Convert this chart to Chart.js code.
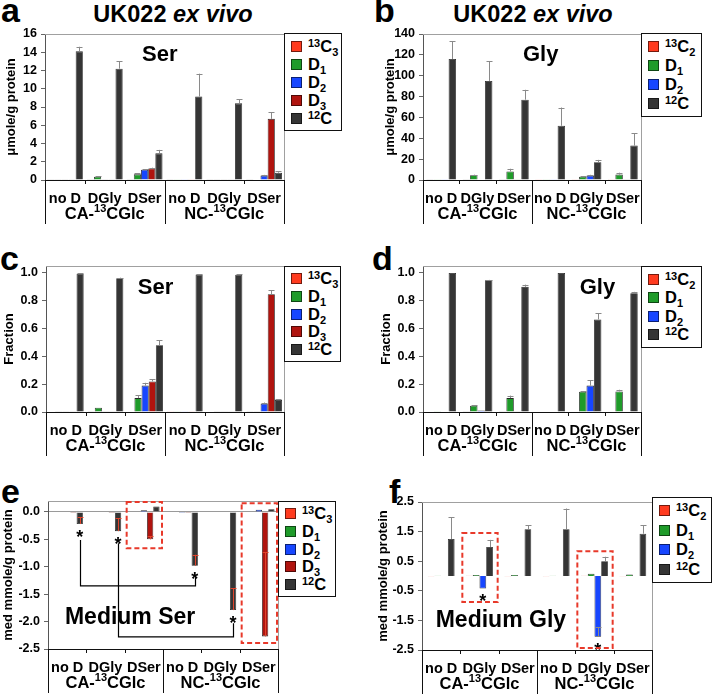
<!DOCTYPE html>
<html>
<head>
<meta charset="utf-8">
<title>UK022 ex vivo</title>
<script src="https://cdn.jsdelivr.net/npm/chart.js@4.4.1/dist/chart.umd.min.js"></script>
<style>
  body { margin: 0; background: #fff; }
  #fig { position: relative; width: 713px; height: 695px; overflow: hidden; font-family: 'Liberation Sans', Arial, sans-serif; color: #000; }
  #fig canvas { position: absolute; }
  .letter { position: absolute; font-weight: bold; font-size: 34px; line-height: 34px; }
  .title { position: absolute; width: 220px; text-align: center; font-weight: bold; font-size: 23.5px; line-height: 23.5px; white-space: nowrap; }
  .legend { position: absolute; box-sizing: border-box; border: 1.5px solid #111; background: #fff; display: flex; flex-direction: column; justify-content: center; padding-left: 6px; }
  .legend .item { display: flex; align-items: center; font-weight: bold; font-size: 16.5px; white-space: nowrap; }
  .legend .swatch { width: 11px; height: 11px; box-sizing: border-box; border: 1px solid rgba(0,0,0,0.55); margin-right: 6px; flex: none; }
  .legend sup, .legend sub { font-size: 11px; line-height: 0; }
  .legend sup { vertical-align: 5px; }
  .legend sub { vertical-align: -4px; }
</style>
</head>
<body>
<div id="fig">
  <div class="letter" style="left:1px;top:-7px">a</div>
  <div class="title" style="left:63px;top:3px">UK022 <i>ex vivo</i></div>
  <div class="letter" style="left:374px;top:-7px">b</div>
  <div class="title" style="left:423px;top:3px">UK022 <i>ex vivo</i></div>
  <div class="letter" style="left:0px;top:241px">c</div>
  <div class="letter" style="left:372px;top:241px">d</div>
  <div class="letter" style="left:1px;top:474px">e</div>
  <div class="letter" style="left:389px;top:474px">f</div>
</div>
<script>
const FONT = "'Liberation Sans', Arial, sans-serif";

// categories and groups (^..^ = superscript, _x = subscript)
const categories = ['no D', 'DGly', 'DSer', 'no D', 'DGly', 'DSer'];
const groupLabels = ['CA-^13^CGlc', 'NC-^13^CGlc'];
const serSeries = ['^13^C_3', 'D_1', 'D_2', 'D_3', '^12^C'];
const glySeries = ['^13^C_2', 'D_1', 'D_2', '^12^C'];
const serColors = ['#ff3b1f', '#1f9b2a', '#1746ff', '#b0140f', '#353535'];
const glyColors = ['#ff3b1f', '#1f9b2a', '#1746ff', '#353535'];

// a: Ser, umole/g protein  (rows: 13C3, D1, D2, D3, 12C)
const aValues = [
  [0.08, 0.04, 0.04, 0.03, 0.04, 0.03],
  [0.03, 0.35, 0.62, 0.02, 0.04, 0.05],
  [0.03, 0.04, 1.12, 0.02, 0.03, 0.48],
  [0.03, 0.04, 1.27, 0.02, 0.03, 6.7],
  [14.1, 12.2, 2.92, 9.15, 8.4, 0.8]
];
const aErrors = [
  [0, 0, 0, 0, 0, 0],
  [0, 0.08, 0.1, 0, 0, 0],
  [0, 0, 0.08, 0, 0, 0.08],
  [0, 0, 0.08, 0, 0, 0.7],
  [0.5, 0.8, 0.38, 2.5, 0.45, 0.15]
];
const aTicks = [0, 2, 4, 6, 8, 10, 12, 14, 16];

// b: Gly, umole/g protein  (rows: 13C2, D1, D2, 12C)
const bValues = [
  [0.6, 0.6, 0.6, 0.2, 0.2, 0.2],
  [0.2, 4.5, 8.2, 0.2, 3.2, 5.2],
  [0.2, 0.5, 0.3, 0.2, 4.2, 0.3],
  [116, 95, 77, 52, 17, 33]
];
const bErrors = [
  [0, 0, 0, 0, 0, 0],
  [0, 0.6, 2.6, 0, 0.6, 1.8],
  [0, 0, 0, 0, 0.8, 0],
  [17, 19, 9.5, 17.5, 2.3, 12]
];
const bTicks = [0, 20, 40, 60, 80, 100, 120, 140];

// c: Ser fraction
const cValues = [
  [0.003, 0.002, 0.003, 0.001, 0.003, 0.002],
  [0.002, 0.031, 0.10, 0.001, 0.002, 0.002],
  [0.002, 0.002, 0.19, 0.001, 0.002, 0.06],
  [0.002, 0.002, 0.22, 0.001, 0.002, 0.847],
  [0.995, 0.962, 0.48, 0.988, 0.987, 0.086]
];
const cErrors = [
  [0, 0, 0, 0, 0, 0],
  [0, 0, 0.02, 0, 0, 0],
  [0, 0, 0.02, 0, 0, 0.008],
  [0, 0, 0.015, 0, 0, 0.028],
  [0.003, 0.004, 0.035, 0.003, 0.004, 0.005]
];
const fracTicks = [0, 0.2, 0.4, 0.6, 0.8, 1.0];

// d: Gly fraction
const dValues = [
  [0.003, 0.005, 0.005, 0, 0, 0],
  [0.001, 0.045, 0.10, 0, 0.146, 0.148],
  [0, 0.01, 0.002, 0, 0.19, 0],
  [1.0, 0.947, 0.9, 1.0, 0.666, 0.854]
];
const dErrors = [
  [0, 0, 0, 0, 0, 0],
  [0, 0.003, 0.018, 0, 0.004, 0.012],
  [0, 0, 0, 0, 0.04, 0],
  [0, 0.003, 0.016, 0, 0.045, 0.01]
];

// e: Medium Ser, med mmole/g protein
const eValues = [
  [-0.01, -0.01, 0.01, -0.01, -0.01, 0.01],
  [-0.01, -0.01, 0.01, -0.01, -0.01, 0.01],
  [-0.01, -0.01, 0.03, -0.02, -0.01, 0.04],
  [-0.02, -0.02, -0.5, -0.02, -0.01, -2.27],
  [-0.22, -0.35, 0.1, -0.98, -1.79, 0.05]
];
const eErrors = [
  [0, 0, 0, 0, 0, 0],
  [0, 0, 0, 0, 0, 0],
  [0, 0, 0, 0, 0, 0],
  [0, 0, 0.06, 0, 0, 1.54],
  [0.13, 0.24, 0, 0.2, 0.4, 0]
];
const eTicks = [-2.5, -2, -1.5, -1, -0.5, 0];

// f: Medium Gly, med mmole/g protein
const fValues = [
  [-0.01, 0.01, -0.01, -0.01, 0.01, -0.01],
  [0.01, 0.03, 0.03, 0.01, 0.08, 0.05],
  [0, -0.42, 0, 0, -2.05, 0],
  [1.25, 0.98, 1.58, 1.58, 0.5, 1.43]
];
const fErrors = [
  [0, 0, 0, 0, 0, 0],
  [0, 0, 0, 0, 0, 0],
  [0, 0, 0, 0, 0.33, 0],
  [0.73, 0.24, 0.14, 0.7, 0.15, 0.28]
];
const fTicks = [-2.5, -1.5, -0.5, 0.5, 1.5, 2.5];

// annotations in data units: red dashed boxes, significance brackets, asterisks [dataset, category]
const eBoxes = [{cat: 2, top: 0.18, bottom: -0.66}, {cat: 5, top: 0.16, bottom: -2.39}];
const fBoxes = [{cat: 1, top: 1.45, bottom: -0.88}, {cat: 4, top: 0.84, bottom: -2.43}];
const eBrackets = [
  {from: 0, to: 3, start: -0.51, low: -1.35, end: -1.19},
  {from: 1, to: 4, start: -0.57, low: -2.28, end: -2.03}
];
const eStars = [[4, 0], [4, 1], [4, 3], [4, 4]];
const fStars = [[2, 1], [2, 4]];

function toHtml(s) {
  return s.replace(/\^(\d+)\^/g, '<sup>$1</sup>').replace(/_(\d)/g, '<sub>$1</sub>');
}
function toPlain(s) {
  return s.replace(/[\^_]/g, '');
}

// text with ^superscript^ parts, centred at cx
function drawSup(ctx, text, cx, cy, size) {
  const parts = text.split('^');
  const big = `bold ${size}px ${FONT}`;
  const small = `bold ${Math.round(size * 0.68)}px ${FONT}`;
  let total = 0;
  parts.forEach((p, k) => { ctx.font = k % 2 ? small : big; total += ctx.measureText(p).width; });
  let px = cx - total / 2;
  ctx.textAlign = 'left';
  ctx.textBaseline = 'middle';
  parts.forEach((p, k) => {
    ctx.font = k % 2 ? small : big;
    ctx.fillText(p, px, k % 2 ? cy - size * 0.3 : cy);
    px += ctx.measureText(p).width;
  });
}

const framePlugin = {
  id: 'frame',
  beforeDatasetsDraw(chart) {
    const {ctx, chartArea: a} = chart;
    ctx.save();
    ctx.strokeStyle = '#a0a0a0';
    ctx.lineWidth = 1;
    ctx.beginPath();
    ctx.moveTo(a.left, Math.round(a.top) + 0.5);
    ctx.lineTo(Math.round(a.right) + 0.5, Math.round(a.top) + 0.5);
    ctx.lineTo(Math.round(a.right) + 0.5, a.bottom);
    ctx.stroke();
    ctx.restore();
  }
};

const errorBarPlugin = {
  id: 'errorBars',
  afterDatasetsDraw(chart, args, opts) {
    const {ctx, scales: {y}} = chart;
    ctx.save();
    ctx.strokeStyle = opts.color;
    ctx.lineWidth = 1;
    chart.data.datasets.forEach((ds, di) => {
      chart.getDatasetMeta(di).data.forEach((bar, i) => {
        const e = ds.errors[i];
        if (!e) return;
        const yEnd = y.getPixelForValue(ds.data[i] + e);
        const bx = Math.round(bar.x) + 0.5;
        ctx.beginPath();
        ctx.moveTo(bx, bar.y);
        ctx.lineTo(bx, yEnd);
        ctx.moveTo(bx - 3, Math.round(yEnd) + 0.5);
        ctx.lineTo(bx + 3, Math.round(yEnd) + 0.5);
        ctx.stroke();
      });
    });
    ctx.restore();
  }
};

const axisLabelPlugin = {
  id: 'axisLabels',
  afterDraw(chart) {
    const {ctx, chartArea: a, scales: {x}} = chart;
    const step = x.getPixelForValue(1) - x.getPixelForValue(0);
    const edge = i => Math.round(x.getPixelForValue(i) - step / 2) + 0.5;
    ctx.save();
    ctx.strokeStyle = '#111';
    ctx.lineWidth = 1;
    ctx.beginPath();
    [0, 3, 6].forEach(i => { ctx.moveTo(edge(i), a.bottom); ctx.lineTo(edge(i), a.bottom + 44); });
    [1, 2, 4, 5].forEach(i => { ctx.moveTo(edge(i), a.bottom); ctx.lineTo(edge(i), a.bottom + 4); });
    ctx.stroke();
    ctx.fillStyle = '#000';
    ctx.font = `bold 14.5px ${FONT}`;
    ctx.textAlign = 'center';
    ctx.textBaseline = 'middle';
    categories.forEach((c, i) => ctx.fillText(c, x.getPixelForValue(i), a.bottom + 19));
    groupLabels.forEach((g, k) => {
      const cx = (x.getPixelForValue(k * 3) + x.getPixelForValue(k * 3 + 2)) / 2;
      drawSup(ctx, g, cx, a.bottom + 34, 16.5);
    });
    ctx.restore();
  }
};

const notesPlugin = {
  id: 'notes',
  afterDatasetsDraw(chart, args, opts) {
    const {ctx, chartArea: a, scales: {x, y}} = chart;
    const step = x.getPixelForValue(1) - x.getPixelForValue(0);
    ctx.save();
    // panel label inside the plot
    ctx.fillStyle = '#000';
    ctx.font = `bold ${opts.label.size}px ${FONT}`;
    ctx.textAlign = 'center';
    ctx.textBaseline = 'middle';
    ctx.fillText(opts.label.text, a.left + opts.label.fx * (a.right - a.left), a.top + opts.label.fy * (a.bottom - a.top));
    // significance brackets
    ctx.strokeStyle = '#000';
    ctx.lineWidth = 1.2;
    (opts.brackets || []).forEach(b => {
      const last = chart.getDatasetMeta(chart.data.datasets.length - 1).data;
      const x0 = Math.round(last[b.from].x) + 0.5, x1 = Math.round(last[b.to].x) + 0.5;
      ctx.beginPath();
      ctx.moveTo(x0, y.getPixelForValue(b.start));
      ctx.lineTo(x0, y.getPixelForValue(b.low));
      ctx.lineTo(x1, y.getPixelForValue(b.low));
      ctx.lineTo(x1, y.getPixelForValue(b.end));
      ctx.stroke();
    });
    // asterisks under bars
    ctx.font = `bold 18px ${FONT}`;
    ctx.textBaseline = 'alphabetic';
    (opts.stars || []).forEach(([di, i]) => {
      const bar = chart.getDatasetMeta(di).data[i];
      ctx.fillText('*', bar.x, bar.y + 19);
    });
    // red dashed boxes
    ctx.strokeStyle = '#e8392a';
    ctx.lineWidth = 2;
    ctx.setLineDash([5, 3]);
    (opts.boxes || []).forEach(b => {
      const cx = x.getPixelForValue(b.cat);
      const t = y.getPixelForValue(b.top), btm = y.getPixelForValue(b.bottom);
      ctx.strokeRect(cx - step / 2 + 2, t, step - 3, btm - t);
    });
    ctx.restore();
  }
};

const panels = [
  {x: 0, y: 0, w: 356, h: 228, area: {left: 45, top: 34, right: 284, bottom: 180},
   series: serSeries, colors: serColors, values: aValues, errors: aErrors, ticks: aTicks, max: 16, dec: 0,
   yTitle: 'μmole/g protein', titlePad: 4, catPct: 0.9, errColor: '#8a8a8a',
   label: {text: 'Ser', fx: 0.48, fy: 0.145, size: 22}, legend: {left: 284, top: 33, w: 58, h: 98}},
  {x: 356, y: 0, w: 357, h: 228, area: {left: 67, top: 34, right: 285, bottom: 180},
   series: glySeries, colors: glyColors, values: bValues, errors: bErrors, ticks: bTicks, max: 140, dec: 0,
   yTitle: 'μmole/g protein', titlePad: 27, catPct: 0.82, errColor: '#8a8a8a',
   label: {text: 'Gly', fx: 0.54, fy: 0.145, size: 22}, legend: {left: 641, top: 33, w: 61, h: 84}},
  {x: 0, y: 228, w: 356, h: 230, area: {left: 46, top: 38, right: 284, bottom: 184},
   series: serSeries, colors: serColors, values: cValues, errors: cErrors, ticks: fracTicks, max: 1.05, dec: 1,
   yTitle: 'Fraction', titlePad: 2, catPct: 0.9, errColor: '#8a8a8a',
   label: {text: 'Ser', fx: 0.46, fy: 0.15, size: 22}, legend: {left: 284, top: 266, w: 57, h: 96}},
  {x: 356, y: 228, w: 357, h: 230, area: {left: 67, top: 38, right: 285, bottom: 184},
   series: glySeries, colors: glyColors, values: dValues, errors: dErrors, ticks: fracTicks, max: 1.05, dec: 1,
   yTitle: 'Fraction', titlePad: 23, catPct: 0.82, errColor: '#8a8a8a',
   label: {text: 'Gly', fx: 0.80, fy: 0.15, size: 22}, legend: {left: 641, top: 266, w: 61, h: 82}},
  {x: 0, y: 458, w: 356, h: 237, area: {left: 48, top: 43, right: 278, bottom: 191},
   series: serSeries, colors: serColors, values: eValues, errors: eErrors, ticks: eTicks, max: 0.2, dec: 1,
   yTitle: 'med mmole/g protein', titlePad: 1, catPct: 0.82, errColor: '#e0442c',
   label: {text: 'Medium Ser', fx: 0.357, fy: 0.79, size: 23},
   boxes: eBoxes, brackets: eBrackets, stars: eStars, legend: {left: 278, top: 501, w: 58, h: 96}},
  {x: 356, y: 458, w: 357, h: 237, area: {left: 66, top: 44, right: 296, bottom: 192},
   series: glySeries, colors: glyColors, values: fValues, errors: fErrors, ticks: fTicks, max: 2.5, dec: 1,
   yTitle: 'med mmole/g protein', titlePad: 20, catPct: 0.7, errColor: '#8a8a8a',
   label: {text: 'Medium Gly', fx: 0.343, fy: 0.80, size: 23},
   boxes: fBoxes, stars: fStars, legend: {left: 652, top: 497, w: 60, h: 86}}
];

const fig = document.getElementById('fig');

function makeLegend(p) {
  const box = document.createElement('div');
  box.className = 'legend';
  Object.assign(box.style, {left: p.legend.left + 'px', top: p.legend.top + 'px',
    width: p.legend.w + 'px', height: p.legend.h + 'px'});
  const rowH = (p.legend.h - 8) / p.series.length;
  p.series.forEach((s, i) => {
    const item = document.createElement('div');
    item.className = 'item';
    item.style.height = rowH + 'px';
    item.innerHTML = `<span class="swatch" style="background:${p.colors[i]}"></span><span>${toHtml(s)}</span>`;
    box.appendChild(item);
  });
  fig.appendChild(box);
}

function makePanel(p) {
  const canvas = document.createElement('canvas');
  canvas.width = p.w;
  canvas.height = p.h;
  canvas.style.left = p.x + 'px';
  canvas.style.top = p.y + 'px';
  fig.appendChild(canvas);

  const datasets = p.series.map((s, i) => ({
    label: toPlain(s),
    data: p.values[i],
    errors: p.errors[i],
    backgroundColor: p.colors[i],
    borderColor: '#262626',
    borderWidth: 0.8,
    categoryPercentage: p.catPct,
    barPercentage: 1
  }));

  new Chart(canvas, {
    type: 'bar',
    data: {labels: categories, datasets},
    options: {
      responsive: false,
      animation: false,
      layout: {padding: {left: 0, top: p.area.top, right: p.w - p.area.right, bottom: p.h - p.area.bottom}},
      scales: {
        x: {
          grid: {display: false},
          border: {color: '#111', width: 1},
          ticks: {display: false},
          afterFit: s => { s.height = 0; }
        },
        y: {
          min: p.ticks[0],
          max: p.max,
          afterFit: s => { s.width = p.area.left; },
          afterBuildTicks: s => { s.ticks = p.ticks.map(v => ({value: v})); },
          grid: {
            drawOnChartArea: true,
            drawTicks: true,
            tickLength: 4,
            color: c => (c.tick && c.tick.value === 0 ? '#9a9a9a' : 'rgba(0,0,0,0)'),
            tickColor: '#666'
          },
          border: {color: '#555', width: 1},
          ticks: {color: '#000', padding: 4, font: {size: 12.5, weight: 'bold', family: FONT},
                  callback: v => v.toFixed(p.dec)},
          title: {display: true, text: p.yTitle, color: '#000',
                  font: {size: 13, weight: 'bold', family: FONT}, padding: {top: p.titlePad, bottom: 0}}
        }
      },
      plugins: {
        legend: {display: false},
        tooltip: {enabled: false},
        errorBars: {color: p.errColor},
        notes: {label: p.label, boxes: p.boxes, brackets: p.brackets, stars: p.stars}
      }
    },
    plugins: [framePlugin, errorBarPlugin, axisLabelPlugin, notesPlugin]
  });
  makeLegend(p);
}

panels.forEach(makePanel);
</script>
</body>
</html>
